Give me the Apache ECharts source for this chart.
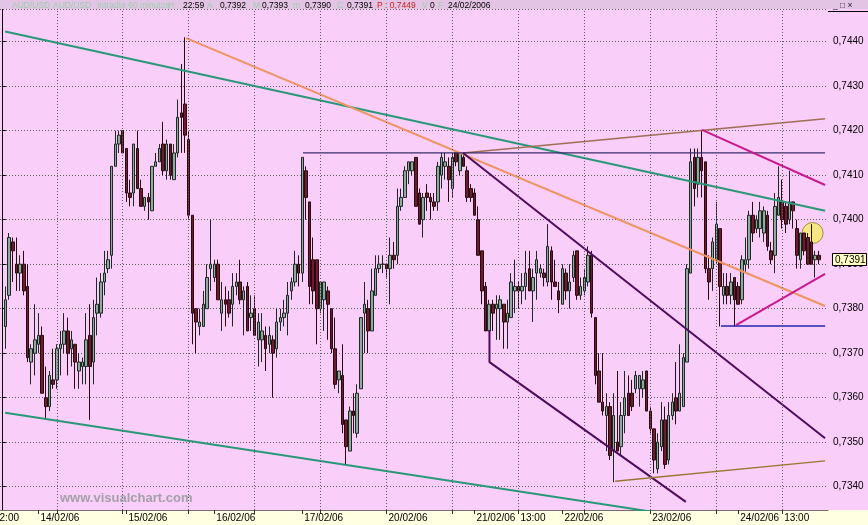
<!DOCTYPE html>
<html><head><meta charset="utf-8">
<script src="https://cdn.jsdelivr.net/npm/echarts@6/dist/echarts.min.js"></script>
<style>html,body{margin:0;padding:0;background:#F9CEF9;overflow:hidden}#c{width:868px;height:525px}</style>
</head><body><div id="c"></div>
<script>
// ---- time axis (hourly bars) ----
const dayLabels = ['13/02/06','14/02/06','15/02/06','16/02/06','17/02/06','20/02/06','21/02/06','22/02/06','23/02/06','24/02/06'];
const dayFirstHour = [14,0,0,0,0,0,0,0,0,0];
const dayBarCount = [10,24,24,24,23,24,24,24,24,23];
const hourTickLabels = [['21/02/06 12:00','13:00'],['24/02/06 12:00','13:00']];

// ---- OHLC (AUD/USD 60 min) ----
const opens = [null,.7376,.7383,.7395,.7390,.7388,.7390,.7385,.7368,.7370,
.7372,.7374,.7360,.7358,.7364,.7364,.7371,.7372,.7375,.7371,
.7372,.7366,.7367,.7367,.7374,.7368,.7379,.7379,.7386,.7389,
.7392,.7412,.7417,.7420,.7416,.7406,.7406,.7416,.7407,.7403,
.7405,.7402,.7412,.7413,.7417,.7411,.7417,.7409,.7415,.7424,
.7426,.7418,.7401,.7380,.7376,.7376,.7380,.7389,.7387,.7390,
.7379,.7382,.7382,.7381,.7385,.7386,.7382,.7385,.7378,.7380,
.7373,.7373,.7374,.7372,.7373,.7371,.7377,.7378,.7379,.7384,
.7386,.7390,.7388,.7411,.7404,.7391,.7391,.7380,.7382,.7384,
.7380,.7371,.7364,.7365,.7355,.7348,.7357,.7352,.7362,.7379,
.7380,.7375,.7383,.7389,.7390,.7390,.7389,.7392,.7392,.7403,
.7405,.7411,.7411,.7414,.7406,.7400,.7406,.7405,.7404,.7404,
.7410,.7412,.7412,.7407,.7415,.7411,.7414,.7411,.7407,.7406,
.7400,.7393,.7385,.7375,.7381,.7380,.7380,.7381,.7377,.7378,
.7384,.7385,.7384,.7385,.7389,.7384,.7388,.7388,.7388,.7386,
.7393,.7386,.7384,.7381,.7388,.7384,.7387,.7393,.7383,.7384,
.7386,.7392,.7378,.7366,.7359,.7356,.7358,.7348,.7350,.7349,
.7356,.7361,.7361,.7362,.7362,.7362,.7366,.7357,.7353,.7344,
.7349,.7355,.7346,.7356,.7360,.7357,.7358,.7368,.7388,.7414,
.7408,.7414,.7413,.7389,.7389,.7391,.7398,.7383,.7385,.7383,
.7387,.7385,.7382,.7390,.7391,.7401,.7398,.7398,.7397,.7401,
.7393,.7392,.7401,.7404,.7403,.7400,.7404,.7398,.7391,.7397,
.7396,.7395,.7391,.7392];
const highs = [null,.7385,.7397,.7396,.7396,.7392,.7393,.7390,.7372,.7381,
.7379,.7376,.7367,.7366,.7371,.7372,.7375,.7379,.7378,.7375,
.7372,.7370,.7369,.7379,.7381,.7382,.7387,.7388,.7393,.7393,
.7412,.7420,.7420,.7420,.7416,.7409,.7417,.7420,.7409,.7405,
.7406,.7412,.7415,.7417,.7422,.7418,.7417,.7417,.7427,.7435,
.7441,.7420,.7401,.7380,.7380,.7384,.7390,.7400,.7391,.7391,
.7386,.7385,.7384,.7388,.7388,.7391,.7385,.7386,.7383,.7383,
.7379,.7379,.7376,.7376,.7374,.7380,.7380,.7382,.7386,.7387,
.7393,.7392,.7414,.7412,.7404,.7396,.7391,.7386,.7386,.7385,
.7380,.7378,.7366,.7372,.7355,.7358,.7361,.7363,.7378,.7386,
.7382,.7389,.7392,.7392,.7392,.7390,.7396,.7395,.7407,.7407,
.7412,.7413,.7413,.7414,.7407,.7406,.7408,.7406,.7406,.7413,
.7415,.7415,.7414,.7415,.7415,.7415,.7415,.7412,.7408,.7407,
.7403,.7393,.7386,.7382,.7382,.7383,.7383,.7381,.7382,.7388,
.7391,.7386,.7388,.7393,.7393,.7389,.7393,.7390,.7389,.7399,
.7394,.7391,.7386,.7390,.7389,.7390,.7393,.7393,.7387,.7389,
.7394,.7393,.7378,.7370,.7370,.7361,.7359,.7361,.7366,.7359,
.7366,.7365,.7364,.7366,.7365,.7366,.7366,.7358,.7353,.7352,
.7359,.7358,.7359,.7361,.7368,.7372,.7370,.7390,.7416,.7416,
.7416,.7420,.7413,.7392,.7396,.7404,.7398,.7388,.7388,.7388,
.7387,.7386,.7392,.7396,.7402,.7404,.7401,.7404,.7403,.7402,
.7395,.7406,.7412,.7409,.7404,.7411,.7404,.7400,.7397,.7397,
.7397,.7399,.7393,.7393];
const lows = [null,.7371,.7382,.7386,.7384,.7384,.7383,.7368,.7363,.7365,
.7370,.7361,.7355,.7357,.7362,.7362,.7365,.7370,.7365,.7367,
.7362,.7362,.7363,.7363,.7355,.7363,.7374,.7378,.7383,.7388,
.7389,.7412,.7415,.7415,.7404,.7403,.7403,.7407,.7403,.7402,
.7400,.7402,.7412,.7413,.7410,.7409,.7409,.7409,.7414,.7415,
.7415,.7400,.7372,.7370,.7374,.7376,.7380,.7384,.7386,.7382,
.7375,.7376,.7378,.7376,.7383,.7381,.7374,.7375,.7375,.7374,
.7367,.7368,.7366,.7370,.7360,.7369,.7375,.7376,.7374,.7382,
.7385,.7385,.7386,.7400,.7381,.7381,.7372,.7379,.7375,.7373,
.7370,.7362,.7361,.7352,.7345,.7348,.7352,.7351,.7362,.7370,
.7370,.7375,.7383,.7388,.7388,.7387,.7381,.7389,.7390,.7402,
.7405,.7408,.7410,.7403,.7399,.7396,.7402,.7400,.7402,.7402,
.7407,.7409,.7404,.7405,.7412,.7410,.7412,.7404,.7404,.7401,
.7392,.7381,.7375,.7375,.7375,.7373,.7373,.7371,.7371,.7378,
.7379,.7380,.7381,.7382,.7384,.7377,.7382,.7387,.7385,.7385,
.7382,.7385,.7379,.7381,.7382,.7380,.7386,.7382,.7382,.7383,
.7385,.7378,.7363,.7359,.7356,.7348,.7346,.7341,.7348,.7347,
.7352,.7356,.7357,.7361,.7358,.7360,.7357,.7352,.7343,.7343,
.7348,.7344,.7345,.7355,.7354,.7357,.7358,.7368,.7388,.7403,
.7405,.7405,.7388,.7382,.7384,.7390,.7376,.7381,.7381,.7381,
.7376,.7381,.7381,.7388,.7389,.7395,.7397,.7396,.7395,.7393,
.7390,.7388,.7401,.7398,.7397,.7399,.7398,.7389,.7389,.7392,
.7390,.7390,.7387,.7390];
const closes = [null,.7382,.7396,.7393,.7388,.7390,.7384,.7369,.7371,.7373,
.7374,.7361,.7358,.7365,.7363,.7371,.7372,.7375,.7370,.7373,
.7368,.7368,.7368,.7373,.7367,.7378,.7381,.7386,.7388,.7391,
.7412,.7417,.7419,.7415,.7406,.7405,.7417,.7407,.7403,.7405,
.7404,.7412,.7413,.7416,.7411,.7417,.7410,.7415,.7423,.7423,
.7419,.7401,.7379,.7377,.7377,.7381,.7387,.7390,.7390,.7382,
.7382,.7381,.7379,.7385,.7386,.7382,.7384,.7375,.7379,.7374,
.7377,.7375,.7371,.7374,.7370,.7377,.7378,.7379,.7383,.7386,
.7390,.7388,.7414,.7405,.7385,.7384,.7380,.7386,.7386,.7381,
.7371,.7363,.7366,.7354,.7349,.7357,.7356,.7361,.7378,.7381,
.7375,.7384,.7389,.7390,.7390,.7389,.7392,.7391,.7403,.7405,
.7411,.7413,.7413,.7403,.7399,.7405,.7405,.7404,.7403,.7412,
.7414,.7413,.7409,.7414,.7413,.7415,.7412,.7405,.7405,.7401,
.7392,.7384,.7375,.7381,.7379,.7381,.7382,.7377,.7379,.7386,
.7385,.7384,.7385,.7388,.7384,.7387,.7391,.7389,.7387,.7394,
.7386,.7385,.7382,.7389,.7384,.7386,.7392,.7383,.7385,.7387,
.7392,.7379,.7365,.7359,.7357,.7358,.7347,.7356,.7348,.7356,
.7360,.7356,.7358,.7365,.7365,.7364,.7357,.7353,.7346,.7350,
.7355,.7345,.7356,.7359,.7357,.7361,.7369,.7389,.7413,.7407,
.7414,.7411,.7389,.7386,.7395,.7399,.7385,.7385,.7383,.7386,
.7382,.7381,.7391,.7391,.7401,.7397,.7400,.7402,.7402,.7394,
.7391,.7403,.7405,.7400,.7399,.7404,.7402,.7392,.7397,.7393,
.7390,.7390,.7392,.7391];

// ---- drawn trendlines: [bar index, price] ----
const tealUpper   = [[0.9, 0.74423], [224.7, 0.74020]];
const tealLower   = [[0.9, 0.73566], [179.6, 0.73341]];
const orangeLine  = [[50.3, 0.74408], [224.7, 0.73806]];
const brownUpper  = [[125.9, 0.74150], [224.7, 0.74227]];
const navyHigh    = [[82.2, 0.74150], [224.7, 0.74150]];
const purpleUpper = [[125.9, 0.74150], [224.7, 0.73509]];
const purpleLower = [[133.1, 0.73752], [133.1, 0.73680], [186.7, 0.73366]];
const brownLower  = [[167.4, 0.73412], [224.7, 0.73458]];
const magentaUp   = [[191.1, 0.74202], [224.7, 0.74078]];
const magentaLow  = [[200.4, 0.73763], [224.7, 0.73878]];
const navyLow     = [[196.3, 0.73761], [224.7, 0.73761]];
const circleMark  = [[221.3, 0.73970]];

// ---- build categories ----
const categories = [];
const dayStart = [];
dayLabels.forEach((d, k) => {
  dayStart.push(categories.length);
  for (let h = 0; h < dayBarCount[k]; h++) {
    categories.push(d + ' ' + String(dayFirstHour[k] + h).padStart(2, '0') + ':00');
  }
});
categories.push('pad1', 'pad2');
const N = categories.length;

const labelMap = new Map();
dayStart.forEach((idx, k) => { if (k > 0) labelMap.set(idx, dayLabels[k]); });
hourTickLabels.forEach(([cat, txt]) => labelMap.set(categories.indexOf(cat), txt));
const gridIdx = [];
for (let i = 15; i < N; i += 18) gridIdx.push(i);
const tickSet = new Set([...dayStart.slice(1), ...gridIdx]);

const candleData = opens.map((o, i) => o == null ? '-' : [o, closes[i], lows[i], highs[i]]);
const lastClose = closes[closes.length - 1];
const fmt = v => v.toFixed(4).replace('.', ',');

const FONT = '"Liberation Sans", Arial, sans-serif';
const GRIDCOL = '#5E5E5E';
const chart = echarts.init(document.getElementById('c'), null, {renderer: 'canvas', width: 868, height: 525});

const lineDefs = [
  [tealUpper, '#2A9878', 2], [tealLower, '#2A9878', 2], [orangeLine, '#EE9462', 2],
  [brownUpper, '#9E6E56', 1.5], [navyHigh, '#3A2C68', 1.2], [purpleUpper, '#4E0C5C', 2],
  [purpleLower, '#4E0C5C', 2], [brownLower, '#9A7630', 1.5], [magentaUp, '#C81A8E', 2],
  [magentaLow, '#C81A8E', 2], [navyLow, '#2424A8', 1.5]
];

const headerTexts = [
  ['AUD/USD', 12, '#9CCDB0'], ['AUD/USD', 53, '#9CCDB0'], ['Intradía 60 minutos', 97, '#9CCDB0'],
  ['H', 168, '#9CCDB0'], ['22:59', 183, '#000'], ['A', 207, '#9CCDB0'], ['0,7392', 220, '#000'],
  ['M', 253, '#9CCDB0'], ['0,7393', 262, '#000'], ['m', 293, '#9CCDB0'], ['0,7390', 305, '#000'],
  ['C', 337, '#9CCDB0'], ['0,7391', 347, '#000'], ['P : 0,7449', 377, '#D02020'],
  ['V', 422, '#9CCDB0'], ['0', 430, '#000'], ['F', 438, '#9CCDB0'], ['24/02/2006', 448, '#000'],
  ['_ □ ×', 833, '#222']
];

const baseGraphic = [
  {id: 'titlebar', type: 'rect', shape: {x: 0, y: 0, width: 868, height: 9}, style: {fill: '#E4C4E4'}, z: 50},
  {id: 'bottombar', type: 'rect', shape: {x: 0, y: 510, width: 868, height: 15}, style: {fill: '#FFFFE1'}, z: -10},
  {id: 'paneltop', type: 'line', shape: {x1: 828, y1: 11.5, x2: 868, y2: 11.5}, style: {stroke: '#000', lineWidth: 1}, z: 50},
  {id: 'watermark', type: 'text', x: 60, y: 492, style: {text: 'www.visualchart.com', font: 'bold 13px ' + FONT, fill: '#A3A0AA'}, z: 60},
  {id: 'firstlabel', type: 'text', x: -6, y: 513, style: {text: '12:00', font: '10px ' + FONT, fill: '#000'}, z: 60},
  ...headerTexts.map(([t, x, c], k) => ({id: 'hdr' + k, type: 'text', x: x, y: 6,
    style: {text: t, font: '8.5px ' + FONT, fill: c, verticalAlign: 'middle'}, z: 60}))
];

const option = {
  animation: false,
  backgroundColor: '#F9CEF9',
  textStyle: {fontFamily: FONT},
  grid: {left: 0, right: 40, top: 9, bottom: 15, containLabel: false, outerBoundsMode: 'none'},
  xAxis: [
    {
      type: 'category', data: categories, boundaryGap: true,
      axisLine: {show: true, lineStyle: {color: '#707070', width: 1}},
      axisTick: {show: true, alignWithLabel: true, length: 4, interval: (i) => tickSet.has(i), lineStyle: {color: '#303030'}},
      axisLabel: {show: true, interval: (i) => labelMap.has(i), formatter: (v, i) => labelMap.get(i) || '',
        align: 'left', margin: 3, padding: [0, 0, 0, 2], fontSize: 10, color: '#000', fontFamily: FONT},
      splitLine: {show: false}
    },
    {type: 'value', min: -0.5, max: N - 0.5, show: false}
  ],
  yAxis: [{
    type: 'value', position: 'right', min: 0.733476, max: 0.744735, splitNumber: 11,
    axisLine: {show: true, lineStyle: {color: '#000', width: 1}},
    axisTick: {show: true, length: 4, lineStyle: {color: '#000'}},
    axisLabel: {show: true, margin: 5, fontSize: 10, color: '#000', fontFamily: FONT,
      showMinLabel: false, showMaxLabel: false, formatter: fmt},
    splitLine: {show: true, lineStyle: {color: GRIDCOL, type: [1, 2], width: 1}}
  }],
  series: [
    {
      type: 'scatter', xAxisIndex: 1, yAxisIndex: 0, z: 1, silent: true,
      data: circleMark, symbolSize: 21,
      itemStyle: {color: '#F4EE66', borderColor: '#8C7C22', borderWidth: 1},
      markLine: {
        silent: true, symbol: ['none', 'none'], animation: false,
        label: {show: false},
        lineStyle: {color: GRIDCOL, type: [1, 2], width: 1},
        data: gridIdx.map(i => ({xAxis: i}))
      }
    },
    {
      type: 'candlestick', xAxisIndex: 0, yAxisIndex: 0, z: 2, silent: true,
      data: candleData, barWidth: 3,
      itemStyle: {color: '#8FAA9C', color0: '#6C1C2C', borderColor: '#1E2824', borderColor0: '#2A0A12', borderWidth: 1}
    },
    ...lineDefs.map(([pts, color, w]) => ({
      type: 'line', xAxisIndex: 1, yAxisIndex: 0, z: 3, silent: true, clip: true,
      data: pts, symbol: 'none', lineStyle: {color: color, width: w}
    }))
  ],
  graphic: baseGraphic
};
chart.setOption(option);

// current-price tag on the price axis, placed through the axis scale
const priceY = Math.round(chart.convertToPixel({yAxisIndex: 0}, lastClose));
chart.setOption({
  graphic: [...baseGraphic,
    {id: 'pricebox', type: 'rect', z: 80, shape: {x: 832.5, y: priceY - 6.5, width: 34, height: 12},
      style: {fill: '#FFFFC4', stroke: '#000', lineWidth: 1}},
    {id: 'pricetxt', type: 'text', z: 81, x: 835, y: priceY,
      style: {text: fmt(lastClose), font: '10px ' + FONT, fill: '#000', verticalAlign: 'middle'}}
  ]
});
</script>
</body></html>
